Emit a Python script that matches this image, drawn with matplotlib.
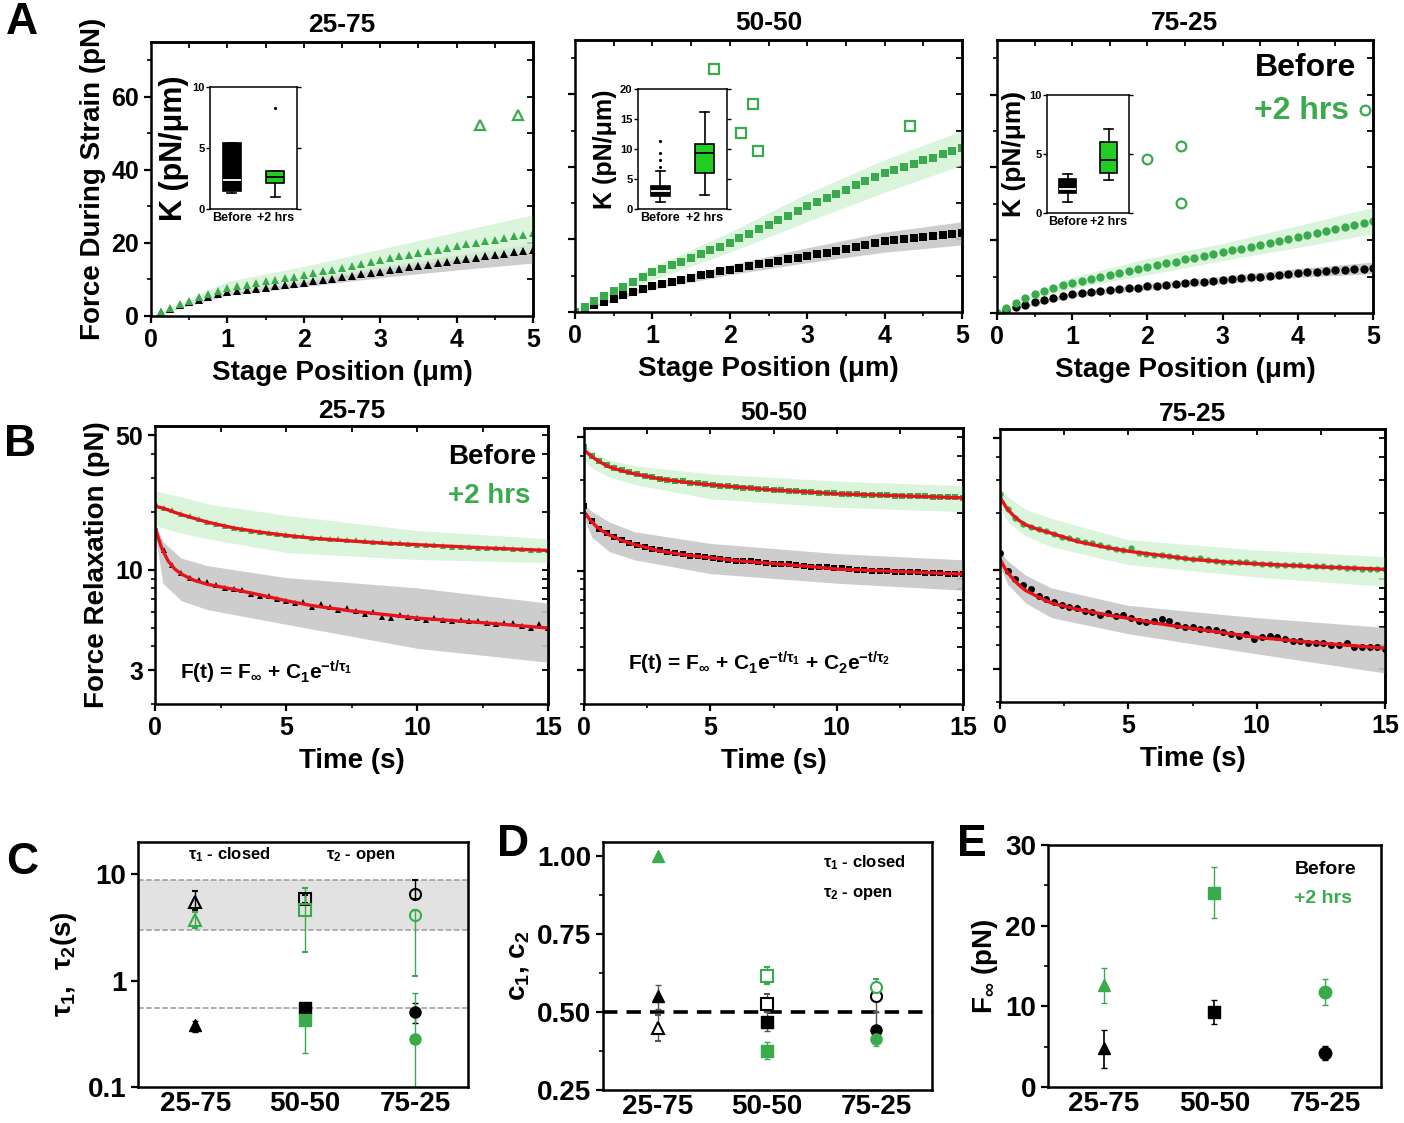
import numpy as np
import matplotlib
matplotlib.use('Agg')
import matplotlib.pyplot as plt

plt.rcParams['font.family'] = ['Liberation Sans', 'DejaVu Sans']
plt.rcParams['font.weight'] = 'bold'
plt.rcParams['axes.labelweight'] = 'bold'
plt.rcParams['mathtext.fontset'] = 'custom'
plt.rcParams['mathtext.rm'] = 'Liberation Sans:bold'
plt.rcParams['mathtext.it'] = 'Liberation Sans:bold'
plt.rcParams['mathtext.bf'] = 'Liberation Sans:bold'
plt.rcParams['axes.linewidth'] = 1.8

GREEN = '#3aab4d'
LGREEN = '#d2f2d4'
GBAND = '#c8c8c8'
BOXG = '#22cc22'
RED = '#e8141c'

# ---------------- panel A : force during strain ----------------
groups = ['25-75', '50-50', '75-25']
pos_A = np.linspace(0, 5, 41)
a_before = [
    [0, 1.0, 2.0, 2.9, 3.7, 4.5, 5.2, 5.9, 6.5, 6.8, 7.2, 7.5, 7.8, 8.1, 8.4, 8.8, 9.1,
     9.5, 9.9, 10.2, 10.6, 11.0, 11.4, 11.7, 12.1, 12.5, 12.9, 13.3, 13.6, 14.0, 14.4, 14.8, 15.2,
     15.6, 15.9, 16.3, 16.7, 17.0, 17.4, 17.8, 18.1],
    [0, 1.0, 1.9, 2.8, 3.7, 4.6, 5.5, 6.3, 7.1, 7.7, 8.3, 8.9, 9.5, 10.1, 10.6, 11.2, 11.7,
     12.2, 12.6, 13.1, 13.5, 14.0, 14.5, 14.9, 15.4, 15.9, 16.4, 16.9, 17.4, 17.9, 18.4, 19.0, 19.5,
     19.8, 20.1, 20.4, 20.7, 21.0, 21.3, 21.5, 21.8],
    [0, 0.8, 1.6, 2.3, 3.0, 3.6, 4.1, 4.6, 5.1, 5.4, 5.7, 6.0, 6.2, 6.5, 6.8, 7.0, 7.3,
     7.5, 7.7, 8.0, 8.2, 8.4, 8.6, 8.9, 9.1, 9.3, 9.6, 9.8, 10.0, 10.3, 10.5, 10.8, 11.0,
     11.2, 11.4, 11.5, 11.7, 11.9, 12.0, 12.2, 12.4],
]
a_after = [
    [0, 1.2, 2.3, 3.3, 4.2, 5.1, 5.9, 6.8, 7.6, 8.1, 8.5, 9.0, 9.5, 9.9, 10.4, 10.8, 11.2,
     11.7, 12.2, 12.7, 13.2, 13.8, 14.3, 14.8, 15.3, 15.8, 16.3, 16.8, 17.2, 17.7, 18.2, 18.7, 19.2,
     19.6, 20.0, 20.5, 20.9, 21.3, 21.8, 22.2, 22.6],
    [0, 1.4, 2.9, 4.3, 5.7, 7.0, 8.3, 9.6, 10.9, 11.9, 12.9, 13.9, 14.9, 15.9, 17.0, 18.0, 19.1,
     20.4, 21.6, 22.9, 24.1, 25.4, 26.6, 27.9, 29.1, 30.3, 31.4, 32.6, 33.7, 34.9, 36.0, 37.2, 38.3,
     39.2, 40.0, 40.9, 41.8, 42.6, 43.5, 44.3, 45.1],
    [0, 1.4, 2.7, 4.0, 5.3, 6.1, 6.9, 7.6, 8.2, 8.8, 9.3, 9.9, 10.4, 11.0, 11.5, 12.1, 12.6,
     13.1, 13.6, 14.1, 14.7, 15.2, 15.7, 16.2, 16.7, 17.2, 17.7, 18.2, 18.8, 19.3, 19.8, 20.3, 20.8,
     21.4, 22.0, 22.5, 23.1, 23.7, 24.2, 24.8, 25.4],
]
band_x_A = [0, 1, 2, 3, 4, 5]
a_before_hi = [[0, 7.2, 10.2, 13.5, 16.8, 19.8], [0, 8.0, 13.0, 17.7, 22.0, 24.9], [0, 5.8, 8.1, 10.1, 12.2, 14.0]]
a_before_lo = [[0, 5.7, 8.0, 10.5, 12.6, 14.5], [0, 6.2, 10.3, 13.6, 16.5, 18.5], [0, 4.4, 6.4, 8.1, 9.8, 10.8]]
a_after_hi = [[0, 9.5, 13.6, 18.3, 23.0, 27.7], [0, 12.4, 22.0, 32.7, 42.0, 50.0], [0, 9.8, 15.0, 19.1, 24.0, 29.0]]
a_after_lo = [[0, 6.3, 9.3, 12.8, 15.5, 17.5], [0, 8.8, 16.5, 24.9, 33.0, 40.5], [0, 6.8, 10.5, 14.4, 18.0, 21.8]]
# stray open symbols drawn in the main axes
a_open_x = [[4.31, 4.80], [1.80, 2.30, 2.14, 2.36, 4.33], [2.0, 2.45, 2.45, 4.89]]
a_open_y = [[52.3, 55.0], [67.1, 57.3, 49.3, 44.4, 51.2], [42.2, 45.8, 30.1, 55.9]]

# inset box plots of K (pN/um): q1, med, q3, whislo, whishi, fliers
k_before = [(1.5, 2.4, 5.4, 1.3, 5.4, []), (2.2, 3.0, 3.9, 1.1, 6.3, [7.0, 8.2, 9.3, 11.3]),
            (1.7, 2.0, 2.9, 0.9, 3.3, [])]
k_after = [(2.1, 2.6, 3.1, 1.0, 3.1, [8.3]), (6.0, 9.3, 10.9, 2.4, 16.2, []),
           (3.4, 4.5, 6.0, 2.8, 7.1, [])]
k_max = [10, 20, 10]
k_ticks = [[0, 5, 10], [0, 5, 10, 15, 20], [0, 5, 10]]

# ---------------- panel B : force relaxation ----------------
n_b = [46, 51, 51]
b_before = [
    [16.6, 12.6, 10.6, 9.6, 9.1, 8.8, 8.6, 8.3, 8.0, 7.9, 7.8, 7.5, 7.3, 7.3, 7.0, 6.9, 6.7, 6.8,
     6.4, 6.6, 6.4, 6.2, 6.3, 6.1, 5.9, 6.0, 5.7, 5.6, 5.8, 5.7, 5.6, 5.5, 5.6, 5.5, 5.4, 5.5,
     5.4, 5.4, 5.3, 5.2, 5.3, 5.3, 5.1, 5.0, 5.2, 5.0],
    [21.8, 18.3, 16.6, 15.7, 15.0, 14.5, 14.0, 13.7, 13.3, 13.0, 12.8, 12.6, 12.4, 12.2, 12.0,
     11.9, 11.8, 11.6, 11.5, 11.4, 11.3, 11.2, 11.2, 11.1, 11.0, 10.9, 10.8, 10.8, 10.7, 10.6,
     10.5, 10.5, 10.4, 10.3, 10.3, 10.2, 10.1, 10.1, 10.0, 10.0, 10.0, 9.9, 9.9, 9.8, 9.8, 9.7,
     9.7, 9.7, 9.6, 9.6, 9.6],
    [12.3, 9.9, 9.0, 8.3, 7.9, 7.3, 7.0, 6.8, 6.5, 6.4, 6.3, 6.1, 6.0, 5.8, 5.9, 5.7, 5.8, 5.6,
     5.4, 5.3, 5.4, 5.5, 5.4, 5.1, 5.0, 5.0, 4.9, 4.9, 4.8, 4.7, 4.6, 4.5, 4.6, 4.3, 4.4, 4.5,
     4.4, 4.3, 4.2, 4.2, 4.1, 4.1, 4.1, 4.0, 4.0, 4.1, 3.9, 3.9, 3.9, 3.9, 3.8],
]
b_after = [
    [22.5, 21.0, 20.4, 19.6, 19.0, 18.4, 17.8, 17.3, 16.9, 16.5, 16.2, 16.0, 15.8, 15.6, 15.4,
     15.2, 15.0, 14.9, 14.7, 14.6, 14.5, 14.4, 14.3, 14.2, 14.1, 14.0, 13.9, 13.8, 13.7, 13.6,
     13.5, 13.4, 13.4, 13.3, 13.2, 13.2, 13.1, 13.0, 13.0, 12.9, 12.9, 12.8, 12.8, 12.7, 12.7, 12.6],
    [44.5, 39.8, 37.5, 35.8, 34.6, 33.6, 32.8, 32.1, 31.5, 30.9, 30.4, 30.0, 29.7, 29.4, 29.0,
     28.7, 28.4, 28.2, 27.9, 27.7, 27.5, 27.3, 27.1, 26.9, 26.7, 26.5, 26.4, 26.2, 26.1, 26.0,
     25.8, 25.7, 25.6, 25.4, 25.3, 25.2, 25.1, 25.0, 25.0, 24.9, 24.8, 24.7, 24.7, 24.6, 24.5,
     24.5, 24.4, 24.3, 24.3, 24.2, 24.0],
    [25.4, 21.0, 18.9, 17.6, 17.0, 16.6, 16.1, 15.6, 15.0, 14.8, 14.4, 14.1, 13.9, 13.6, 13.3,
     13.0, 12.8, 13.1, 12.4, 12.2, 12.1, 12.0, 11.9, 11.7, 11.6, 11.5, 11.6, 11.3, 11.2, 11.1,
     11.1, 11.0, 11.0, 10.9, 10.8, 10.8, 10.7, 10.7, 10.6, 10.6, 10.5, 10.5, 10.5, 10.4, 10.4,
     10.3, 10.3, 10.2, 10.2, 10.1, 10.2],
]
t_fit = [0, 0.25, 0.5, 0.75, 1, 1.5, 2, 3, 4, 5, 6, 7.5, 9, 10, 12.5, 15]
fit_before = [
    [16.6, 13.0, 11.1, 10.1, 9.5, 8.8, 8.4, 7.9, 7.4, 6.9, 6.5, 6.1, 5.8, 5.6, 5.3, 4.97],
    [20.4, 18.4, 17.0, 16.1, 15.4, 14.4, 13.7, 12.7, 12.1, 11.7, 11.3, 10.9, 10.5, 10.2, 9.9, 9.6],
    [11.4, 9.9, 9.0, 8.3, 7.8, 7.2, 6.7, 6.2, 5.85, 5.55, 5.25, 4.9, 4.6, 4.4, 4.1, 3.86],
]
fit_after = [
    [21.4, 21.0, 20.5, 19.9, 19.4, 18.5, 17.7, 16.5, 15.7, 15.1, 14.6, 14.1, 13.7, 13.5, 13.0, 12.6],
    [43.0, 40.2, 38.1, 36.4, 35.0, 33.4, 32.2, 30.3, 29.1, 28.2, 27.5, 26.5, 25.8, 25.3, 24.7, 24.1],
    [24.4, 21.4, 19.6, 18.3, 17.4, 16.4, 15.7, 14.2, 13.3, 12.6, 12.1, 11.4, 11.0, 10.8, 10.4, 10.1],
]
t_band = [0, 0.3, 1, 2, 5, 10, 15]
b_before_hi = [[17.5, 14.0, 11.5, 10.5, 9.1, 8.05, 6.7], [22.4, 20.5, 18.0, 16.0, 13.9, 12.3, 11.4],
               [12.6, 11.2, 9.4, 8.05, 6.5, 5.6, 4.97]]
b_before_lo = [[15.5, 8.5, 6.9, 6.2, 5.2, 3.9, 3.3], [19.0, 15.0, 12.6, 11.4, 9.65, 8.6, 7.9],
               [10.5, 8.4, 6.7, 5.6, 4.6, 3.6, 2.85]]
b_after_hi = [[25.9, 25.2, 24.0, 22.0, 19.2, 16.0, 14.5], [46.4, 42.5, 38.0, 35.5, 32.2, 29.5, 27.9],
              [27.5, 24.5, 21.0, 18.8, 14.5, 12.8, 11.8]]
b_after_lo = [[17.0, 16.5, 15.5, 14.5, 12.3, 11.3, 10.9], [38.0, 34.5, 31.0, 28.3, 23.8, 21.5, 20.4],
              [21.5, 18.0, 15.2, 13.3, 10.7, 9.2, 8.2]]

# ---------------- panels C, D, E ----------------
cat_pos = [1, 2, 3]
markers = ['^', 's', 'o']
# C: time constants (s)
c_open_before = [5.5, 5.8, 6.5]
c_open_before_lo = [4.6, 5.3, 5.8]
c_open_before_hi = [6.9, 6.4, 8.8]
c_open_after = [3.7, 4.6, 4.1]
c_open_after_lo = [3.1, 1.85, 1.1]
c_open_after_hi = [4.4, 7.4, 4.6]
c_closed_before = [0.38, 0.55, 0.51]
c_closed_before_lo = [0.33, 0.50, 0.40]
c_closed_before_hi = [0.42, 0.60, 0.62]
c_closed_after = [np.nan, 0.43, 0.28]
c_closed_after_lo = [np.nan, 0.21, 0.10]
c_closed_after_hi = [np.nan, 0.62, 0.77]
# D: amplitudes
d_open_before = [0.45, 0.526, 0.551]
d_open_before_lo = [0.407, 0.50, 0.50]
d_open_before_hi = [0.49, 0.557, 0.58]
d_open_after = [np.nan, 0.616, 0.581]
d_open_after_lo = [np.nan, 0.59, 0.56]
d_open_after_hi = [np.nan, 0.645, 0.605]
d_closed_before = [0.552, 0.468, 0.443]
d_closed_before_lo = [0.51, 0.44, 0.40]
d_closed_before_hi = [0.587, 0.50, 0.50]
d_closed_after = [1.00, 0.376, 0.413]
d_closed_after_lo = [1.00, 0.35, 0.39]
d_closed_after_hi = [1.00, 0.405, 0.435]
# E: F_inf (pN)
e_before = [4.8, 9.3, 4.2]
e_before_lo = [2.3, 7.8, 3.3]
e_before_hi = [7.1, 10.8, 5.1]
e_after = [12.6, 24.0, 11.8]
e_after_lo = [10.4, 21.0, 10.2]
e_after_hi = [14.8, 27.3, 13.4]

W, H = 1404, 1123
fig = plt.figure(figsize=(W / 100, H / 100), dpi=100)


def px_axes(l, t, r, b):
    return fig.add_axes([l / W, 1 - b / H, (r - l) / W, (b - t) / H])


def ftext(x, y, s, **kw):
    fig.text(x / W, 1 - y / H, s, **kw)


def style(ax, size):
    ax.tick_params(which='major', direction='out', length=5, width=1.6, labelsize=size)
    ax.tick_params(which='minor', direction='out', length=3, width=1.2)


def mirror(ax, xmaj, xmin, ymaj, ymin):
    sx = ax.secondary_xaxis('top')
    sx.set_xticks(xmaj)
    sx.set_xticks(xmin, minor=True)
    sx.tick_params(which='both', direction='in', labeltop=False, width=1.3, length=4)
    sy = ax.secondary_yaxis('right')
    sy.set_yticks(ymaj)
    sy.set_yticks(ymin, minor=True)
    sy.tick_params(which='both', direction='in', labelright=False, width=1.3, length=4)


def errs(vals, lo, hi):
    v, l, h = np.array(vals), np.array(lo), np.array(hi)
    return np.vstack([v - l, h - v])


# ---- A ----
a_boxes = [(151, 42, 533, 316), (575, 40, 962, 312), (997, 40, 1373, 313)]
a_insets = [(210, 87, 297, 209), (638, 89, 727, 209), (1047, 95, 1129, 213)]
a_klabel = [22, 18, 19]
for i in range(3):
    ax = px_axes(*a_boxes[i])
    ax.fill_between(band_x_A, a_before_lo[i], a_before_hi[i], color=GBAND, lw=0, alpha=0.9)
    ax.fill_between(band_x_A, a_after_lo[i], a_after_hi[i], color=LGREEN, lw=0, alpha=0.8)
    ax.plot(pos_A, a_before[i], ls='none', marker=markers[i], ms=6, color='black', mew=0)
    ax.plot(pos_A, a_after[i], ls='none', marker=markers[i], ms=6, color=GREEN, mew=0)
    ax.plot(a_open_x[i], a_open_y[i], ls='none', marker=markers[i], ms=7, mfc='none',
            mec=GREEN, mew=1.6)
    ax.set_xlim(0, 5)
    ax.set_ylim(0, 75)
    ax.set_xticks([0, 1, 2, 3, 4, 5])
    ax.set_xticks(np.arange(0.5, 5, 1), minor=True)
    ax.set_yticks([0, 20, 40, 60])
    ax.set_yticks([10, 30, 50, 70], minor=True)
    style(ax, 18)
    mirror(ax, [1, 2, 3, 4], np.arange(0.5, 5, 1), [20, 40, 60], [10, 30, 50, 70])
    if i > 0:
        ax.set_yticklabels([])
    else:
        ax.set_ylabel('Force During Strain (pN)', fontsize=20, labelpad=4)
    ax.set_xlabel('Stage Position (\u03bcm)', fontsize=20, labelpad=6)
    ax.set_title(groups[i], fontsize=19, fontweight='bold', pad=7)

    ins = px_axes(*a_insets[i])
    stats = []
    for q in (k_before[i], k_after[i]):
        stats.append(dict(q1=q[0], med=q[1], q3=q[2], whislo=q[3], whishi=q[4], fliers=q[5]))
    bp = ins.bxp(stats, positions=[1, 2], widths=0.42, patch_artist=True,
                 boxprops=dict(lw=1.2, edgecolor='black'),
                 whiskerprops=dict(lw=1.2), capprops=dict(lw=1.2),
                 medianprops=dict(lw=1.3),
                 flierprops=dict(marker='.', ms=2.5, mfc='black', mec='black'))
    bp['boxes'][0].set_facecolor('black')
    bp['medians'][0].set_color('white')
    bp['boxes'][1].set_facecolor(BOXG)
    bp['medians'][1].set_color('black')
    ins.set_xlim(0.5, 2.5)
    ins.set_ylim(0, k_max[i])
    ins.set_yticks(k_ticks[i])
    ins.set_xticks([1, 2])
    ins.set_xticklabels(['Before', '+2 hrs'], fontsize=9)
    for s in ins.spines.values():
        s.set_linewidth(1.1)
    ins.tick_params(axis='y', labelsize=8, length=3, width=1, pad=1, right=True, direction='out')
    ins.tick_params(axis='x', length=0, pad=2)
    ins.set_ylabel('K (pN/\u03bcm)', fontsize=a_klabel[i], labelpad=2)

ftext(1306, 68, 'Before', fontsize=23, ha='center', va='center', color='black')
ftext(1302, 111, '+2 hrs', fontsize=23, ha='center', va='center', color=GREEN)

# ---- B ----
b_boxes = [(155, 426, 548, 704), (584, 428, 963, 704), (1000, 429, 1385, 702)]
for i in range(3):
    ax = px_axes(*b_boxes[i])
    tt = np.linspace(0, 15, n_b[i])
    ax.fill_between(t_band, b_before_lo[i], b_before_hi[i], color=GBAND, lw=0, alpha=0.9)
    ax.fill_between(t_band, b_after_lo[i], b_after_hi[i], color=LGREEN, lw=0, alpha=0.8)
    ax.plot(tt, b_before[i], ls='none', marker=markers[i], ms=5, color='black', mew=0)
    ax.plot(tt, b_after[i], ls='none', marker=markers[i], ms=4.5, color=GREEN, mew=0)
    ax.plot(t_fit, fit_before[i], color=RED, lw=2.4)
    ax.plot(t_fit, fit_after[i], color=RED, lw=2.4)
    ax.set_yscale('log')
    ax.set_xlim(0, 15)
    ax.set_ylim(2, 56)
    ax.set_xticks([0, 5, 10, 15])
    ax.set_yticks([3, 10, 50])
    ax.set_yticks([2, 4, 5, 6, 7, 8, 9, 20, 30, 40], minor=True)
    ax.set_xticks([2.5, 7.5, 12.5], minor=True)
    ax.yaxis.set_minor_formatter(plt.NullFormatter())
    if i == 0:
        ax.set_yticklabels(['3', '10', '50'])
        ax.set_ylabel('Force Relaxation (pN)', fontsize=20, labelpad=4)
    else:
        ax.set_yticklabels([])
    style(ax, 18)
    mirror(ax, [5, 10], [2.5, 7.5, 12.5], [3, 10, 50], [4, 5, 6, 7, 8, 9, 20, 30, 40])
    ax.set_xlabel('Time (s)', fontsize=20, labelpad=6)
    ax.set_title(groups[i], fontsize=19, fontweight='bold', pad=6)

ftext(492, 457, 'Before', fontsize=20, ha='center', va='center', color='black')
ftext(489, 496, '+2 hrs', fontsize=20, ha='center', va='center', color=GREEN)
ftext(180, 672, r'F(t) = F$_\infty$ + C$_1$e$^{-t/\tau_1}$', fontsize=15, ha='left', va='center')
ftext(628, 663, r'F(t) = F$_\infty$ + C$_1$e$^{-t/\tau_1}$ + C$_2$e$^{-t/\tau_2}$', fontsize=15,
      ha='left', va='center')

# ---- C ----
ax = px_axes(138, 842, 468, 1087)
ax.axhspan(3.0, 8.8, color='#e2e2e2', lw=0)
for yv in (3.0, 8.8, 0.55):
    ax.axhline(yv, color='#9a9a9a', ls='--', lw=1.1)
for j in range(3):
    m = markers[j]
    ax.errorbar(cat_pos[j], c_open_before[j],
                yerr=errs([c_open_before[j]], [c_open_before_lo[j]], [c_open_before_hi[j]]),
                fmt=m, ms=8, mfc='none', mec='black', mew=1.5, ecolor='black', elinewidth=1, capsize=2)
    ax.errorbar(cat_pos[j], c_open_after[j],
                yerr=errs([c_open_after[j]], [c_open_after_lo[j]], [c_open_after_hi[j]]),
                fmt=m, ms=8, mfc='none', mec=GREEN, mew=1.5, ecolor=GREEN, elinewidth=1, capsize=2)
    ax.errorbar(cat_pos[j], c_closed_before[j],
                yerr=errs([c_closed_before[j]], [c_closed_before_lo[j]], [c_closed_before_hi[j]]),
                fmt=m, ms=8, color='black', ecolor='black', elinewidth=1, capsize=2)
    if not np.isnan(c_closed_after[j]):
        ax.errorbar(cat_pos[j], c_closed_after[j],
                    yerr=errs([c_closed_after[j]], [c_closed_after_lo[j]], [c_closed_after_hi[j]]),
                    fmt=m, ms=8, color=GREEN, ecolor=GREEN, elinewidth=1, capsize=2)
ax.set_yscale('log')
ax.set_ylim(0.1, 20)
ax.set_xlim(0.48, 3.48)
ax.set_yticks([0.1, 1, 10])
ax.set_yticklabels(['0.1', '1', '10'])
ax.yaxis.set_minor_locator(plt.NullLocator())
ax.set_xticks(cat_pos)
ax.set_xticklabels(groups)
style(ax, 20)
ax.tick_params(axis='x', length=0, pad=3)
ax.set_ylabel(r'$\tau_1$,  $\tau_2$(s)', fontsize=20, labelpad=6)
ax.text(0.15, 0.93, r'$\tau_1$ - closed', transform=ax.transAxes, fontsize=12)
ax.text(0.57, 0.93, r'$\tau_2$ - open', transform=ax.transAxes, fontsize=12)

# ---- D ----
ax = px_axes(603, 842, 932, 1090)
ax.axhline(0.5, color='black', ls='--', lw=2.6, dashes=(4, 2.5))
for j in range(3):
    m = markers[j]
    ax.errorbar(cat_pos[j], d_open_before[j],
                yerr=errs([d_open_before[j]], [d_open_before_lo[j]], [d_open_before_hi[j]]),
                fmt=m, ms=8, mfc='white', mec='black', mew=1.5, ecolor='#555555', elinewidth=1, capsize=2)
    if not np.isnan(d_open_after[j]):
        ax.errorbar(cat_pos[j], d_open_after[j],
                    yerr=errs([d_open_after[j]], [d_open_after_lo[j]], [d_open_after_hi[j]]),
                    fmt=m, ms=8, mfc='white', mec=GREEN, mew=1.5, ecolor=GREEN, elinewidth=1, capsize=2)
    ax.errorbar(cat_pos[j], d_closed_before[j],
                yerr=errs([d_closed_before[j]], [d_closed_before_lo[j]], [d_closed_before_hi[j]]),
                fmt=m, ms=8, color='black', ecolor='#555555', elinewidth=1, capsize=2)
    ax.errorbar(cat_pos[j], d_closed_after[j],
                yerr=errs([d_closed_after[j]], [d_closed_after_lo[j]], [d_closed_after_hi[j]]),
                fmt=m, ms=8, color=GREEN, ecolor=GREEN, elinewidth=1, capsize=2)
ax.set_ylim(0.25, 1.045)
ax.set_xlim(0.5, 3.51)
ax.set_yticks([0.25, 0.5, 0.75, 1.0])
ax.set_yticklabels(['0.25', '0.50', '0.75', '1.00'])
ax.set_yticks([0.375, 0.625, 0.875], minor=True)
ax.set_xticks(cat_pos)
ax.set_xticklabels(groups)
style(ax, 20)
ax.tick_params(axis='x', length=0, pad=3)
ax.set_ylabel(r'c$_1$, c$_2$', fontsize=20, labelpad=4)
ax.text(0.67, 0.9, r'$\tau_1$ - closed', transform=ax.transAxes, fontsize=12)
ax.text(0.67, 0.78, r'$\tau_2$ - open', transform=ax.transAxes, fontsize=12)

# ---- E ----
ax = px_axes(1048, 845, 1381, 1087)
ax.errorbar(cat_pos, e_before, yerr=errs(e_before, e_before_lo, e_before_hi), fmt='none',
            ecolor='black', elinewidth=1.2, capsize=2)
ax.errorbar(cat_pos, e_after, yerr=errs(e_after, e_after_lo, e_after_hi), fmt='none',
            ecolor=GREEN, elinewidth=1, capsize=2)
for j in range(3):
    ax.plot(cat_pos[j], e_before[j], marker=markers[j], ms=9, color='black', ls='none')
    ax.plot(cat_pos[j], e_after[j], marker=markers[j], ms=9, color=GREEN, ls='none')
ax.set_ylim(0, 30)
ax.set_xlim(0.5, 3.5)
ax.set_yticks([0, 10, 20, 30])
ax.set_yticks([5, 15, 25], minor=True)
ax.set_xticks(cat_pos)
ax.set_xticklabels(groups)
style(ax, 20)
ax.tick_params(axis='x', length=0, pad=3)
ax.set_ylabel(r'F$_\infty$ (pN)', fontsize=20, labelpad=4)
ax.text(0.74, 0.88, 'Before', transform=ax.transAxes, fontsize=14, color='black')
ax.text(0.74, 0.76, '+2 hrs', transform=ax.transAxes, fontsize=14, color=GREEN)

# panel letters
for (x, y, s) in [(22, 22, 'A'), (20, 445, 'B'), (22, 862, 'C'), (513, 845, 'D'), (972, 845, 'E')]:
    ftext(x, y, s, fontsize=32, ha='center', va='center', fontweight='bold')

fig.savefig('out.png', dpi=100)
